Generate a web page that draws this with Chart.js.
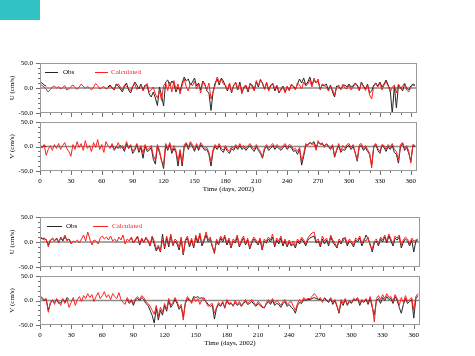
<!DOCTYPE html>
<html><head><meta charset="utf-8">
<script src="https://cdn.jsdelivr.net/npm/chart.js@4/dist/chart.umd.min.js"></script>
<style>
html,body{margin:0;padding:0;background:#fff;}
#wrap{position:relative;width:475px;height:356px;overflow:hidden;background:#fff;}
#teal{position:absolute;left:0;top:0;width:40px;height:20px;background:#31c3c3;}
canvas{position:absolute;left:0;top:0;}
</style></head><body>
<div id="wrap"><div id="teal"></div>
<canvas id="c1" width="475" height="356"></canvas>
<canvas id="c2" width="475" height="356"></canvas>
<canvas id="c3" width="475" height="356"></canvas>
<canvas id="c4" width="475" height="356"></canvas>
</div>
<script>
const _ = null;
const days = Array.from({length:183}, (_v,i) => i*2);
const xTickLabels = [0,30,60,90,120,150,180,210,240,270,300,330,360];
const yTickLabels = [-50,0,50];

// Group 1, U component
const u1Calc = [
 8,5,2,-2,-8,-3,2,4,0,3,
 -2,1,5,-4,-2,3,6,1,-3,2,
 8,4,-1,3,0,-4,2,9,5,-2,
 1,3,-2,0,4,1,-3,5,8,2,
 -4,6,3,-1,-5,4,8,-3,2,6,
 -6,3,9,-8,-4,2,-12,-20,-6,-25,
 5,10,-5,12,-8,15,-3,8,-12,5,
 18,2,-6,10,4,14,-2,8,-10,12,
 6,-4,10,-22,-8,5,22,12,18,8,
 6,-4,10,-8,4,12,-2,8,-12,3,
 6,-5,10,2,-6,15,4,18,8,-3,
 12,-6,4,10,-2,6,-8,-4,2,-10,
 4,-6,8,2,-4,10,6,-2,12,4,
 8,16,2,20,10,18,-4,8,6,2,
 -6,4,-3,-14,2,6,-4,8,0,-2,
 6,-4,2,8,4,-6,10,2,-5,6,
 -14,-22,4,8,2,10,-4,6,12,4,
 -8,2,6,-10,8,-2,4,10,-4,-8,
 2,6,4];
const u1Obs = [
 12,10,6,4,_,_,_,_,_,_,
 _,_,_,_,_,_,_,_,_,_,
 _,_,_,_,_,_,_,_,_,_,
 _,_,_,2,6,0,-4,8,4,-2,
 -8,4,10,-4,-10,2,12,6,-2,8,
 -4,6,4,-12,-18,-8,-20,-35,2,-15,
 -36,12,16,4,14,8,-8,2,-6,10,
 22,14,18,6,12,20,4,10,-4,14,
 8,-6,-10,-45,-8,10,18,6,20,14,
 4,-6,8,-10,6,10,-4,12,-8,0,
 4,-8,8,6,-4,12,2,16,10,-2,
 10,-4,6,8,-6,4,-10,-2,4,-8,
 2,-4,6,4,-2,8,18,10,20,6,
 12,22,6,16,10,14,-2,6,4,8,
 -4,6,-8,-18,4,2,-2,4,6,2,
 8,2,4,10,6,-4,12,4,-2,8,
 -10,-6,6,10,4,12,2,8,16,6,
 -4,-52,4,-40,6,2,-6,8,0,-4,
 4,8,6];

// Group 1, V component
const v1Calc = [
 2,-2,4,-18,-6,2,-8,4,-4,6,
 -6,2,8,-4,-10,-20,4,-6,10,-2,
 6,-8,12,-4,2,-10,8,-2,14,-6,
 4,-12,10,2,-4,6,-8,-2,8,-4,
 2,-6,10,-2,4,-10,-4,6,-8,2,
 -14,4,-6,-4,2,-18,-28,4,-8,-30,
 -36,6,-4,8,-10,2,-8,-30,-6,-34,
 4,8,-2,10,4,-6,6,-4,8,2,
 -4,-2,-12,-32,-6,4,-2,6,-4,-8,
 2,-6,-10,0,-4,4,-2,6,-2,2,
 -4,2,6,-2,-6,4,-4,-10,-22,-2,
 4,-4,2,6,-2,4,0,-4,2,6,
 -2,4,2,-6,-4,-10,-2,-30,-14,6,
 2,8,4,6,-8,12,4,8,-2,6,
 2,-4,4,-20,-6,6,-10,2,-4,4,
 6,-2,4,-14,-28,4,6,-4,2,-6,
 -14,-44,2,6,-4,-10,4,2,-6,4,
 -2,6,-6,-10,-28,4,8,-4,2,-10,
 -34,4,2];
const v1Obs = [
 0,-2,2,0,_,_,_,_,_,_,
 _,_,_,_,_,_,_,_,_,_,
 _,_,_,_,_,_,_,_,_,_,
 _,_,_,_,-2,2,-6,0,-4,2,
 -2,-10,6,-4,2,-14,-8,4,-12,-2,
 -24,0,-10,-8,-2,-26,-36,0,-12,-28,
 -45,2,-8,4,-14,-4,-12,-40,-10,-40,
 -2,6,-6,6,0,-10,2,-8,4,-2,
 -8,-6,-16,-40,-10,0,-6,2,-8,-12,
 -2,-10,-14,-4,-8,0,-6,2,-6,-2,
 -8,-2,2,-6,-10,0,-8,-14,-24,-6,
 0,-8,-4,2,-6,0,-4,-8,-2,2,
 -6,0,-2,-10,-8,-16,-6,-38,-20,2,
 4,8,6,10,-2,8,6,4,2,4,
 0,-6,2,-22,-8,2,-12,-6,-8,0,
 2,-6,0,-12,-30,0,2,-8,-2,-10,
 -16,-38,-2,4,-8,-14,2,-2,-10,0,
 -6,2,-12,-16,-34,0,6,-8,-2,-14,
 -30,2,0];

// Group 2, U component
const u2Calc = [
 12,8,4,6,-10,2,8,4,6,-2,
 10,4,14,2,6,-4,2,0,4,-2,
 6,14,2,20,6,-6,4,2,-4,8,
 12,6,10,4,12,2,6,0,10,4,
 14,-4,6,2,10,-2,6,12,-4,8,
 -2,10,4,-6,12,2,-14,-6,-18,4,
 -10,12,-4,16,-8,6,2,-12,10,-24,
 4,12,-6,8,-10,14,2,18,-4,6,
 20,4,10,-8,-24,6,-2,12,4,14,
 -2,8,-10,6,2,14,-8,4,12,-4,
 8,-12,2,10,4,-2,8,-14,6,2,
 10,4,16,-6,8,2,12,-4,6,-8,
 4,-6,2,-8,6,0,10,4,-4,8,
 14,18,20,2,6,-6,12,2,8,-4,
 14,4,-2,-10,6,0,2,10,-4,6,
 2,-6,8,4,12,-4,6,2,10,-8,
 -14,2,6,-4,10,4,14,2,16,6,
 -4,12,8,14,-6,4,10,6,-4,8,
 2,4,6];
const u2Obs = [
 10,6,8,4,-6,4,6,2,8,0,
 8,2,10,4,6,-2,_,_,_,_,
 _,_,_,_,_,_,_,_,_,_,
 _,_,_,_,_,_,_,_,_,_,
 _,_,_,4,8,-2,4,10,-6,6,
 0,8,2,-8,10,-4,-18,-10,-20,16,
 -14,8,-10,12,-6,2,-4,-16,6,-26,
 2,8,-10,4,-12,10,-2,14,-8,2,
 14,0,6,-10,-20,2,-6,8,0,10,
 -6,4,-12,2,-2,10,-10,0,8,-6,
 4,-14,-2,6,0,-6,4,-16,2,-2,
 6,0,10,-10,4,-4,8,-8,2,-10,
 0,-8,-4,-12,2,-4,6,0,-8,4,
 8,10,12,-2,2,-10,6,-4,4,-8,
 10,0,-6,-12,2,-4,8,6,-8,2,
 -2,-10,4,0,8,-8,2,14,6,-4,
 -20,-2,2,-8,6,0,10,-2,12,2,
 -8,8,4,10,-12,0,6,2,-8,4,
 -20,2,4];

// Group 2, V component
const v2Calc = [
 10,6,2,4,-24,-4,2,-8,4,-2,
 -10,4,-6,2,-14,-4,6,-10,2,8,
 -2,10,4,14,6,12,-2,8,16,4,
 10,18,6,12,2,14,8,4,16,2,
 -4,-8,6,-2,2,-6,4,8,2,10,
 6,-2,-6,-12,-20,-28,-10,-32,-14,-24,
 -6,-18,4,-10,-4,6,-2,-14,-8,-40,
 -4,8,2,-6,6,-2,4,-8,2,6,
 -4,-12,-8,-6,-26,-14,-4,-10,-2,-16,
 2,-6,-4,-12,0,-8,-2,-10,-4,2,
 -6,-2,2,-4,-10,-2,-6,-12,-16,-4,
 2,-4,4,-6,0,-4,-10,-2,2,-8,
 -4,-2,-12,-20,-6,2,-4,6,2,4,
 4,8,14,10,2,6,-4,6,2,-2,
 6,-4,2,-10,-24,2,-6,4,-8,0,
 -4,4,2,6,-6,2,-2,4,-4,8,
 -10,-44,4,10,2,12,4,14,6,8,
 -2,12,4,-10,6,-4,10,-2,2,6,
 -20,8,14];
const v2Obs = [
 8,4,0,2,-20,-6,0,-4,2,-6,
 -4,2,-4,6,2,_,_,_,_,_,
 _,_,_,_,_,_,_,_,_,_,
 _,_,_,_,_,_,_,_,_,_,
 _,_,2,-6,0,-10,2,4,0,6,
 2,-6,-10,-20,-30,-46,-16,-40,-20,-30,
 -10,-22,0,-14,-8,2,-6,-18,-12,-34,
 -6,4,0,-4,8,6,8,4,6,2,
 -2,-8,-12,-10,-38,-16,-8,-12,-4,-14,
 0,-8,-6,-10,-4,-10,-6,-12,-6,-2,
 -8,-6,-2,-8,-12,-6,-10,-14,-14,-8,
 -2,-8,0,-10,-6,-8,-14,-6,-2,-12,
 -8,-14,-18,-26,-10,-4,-6,2,0,2,
 2,4,6,4,2,2,0,4,0,-4,
 4,-8,0,-12,-26,-2,-10,2,-10,-2,
 -6,2,0,4,-10,0,-4,2,-8,4,
 -14,-30,0,4,-6,6,0,8,2,4,
 -6,8,0,-14,-26,-8,4,-6,-2,2,
 -36,4,10];

const FONT = '"Liberation Serif", "Times New Roman", serif';
const OBS_COLOR = '#262626';
const CALC_COLOR = '#ff1f1f';

const framePlugin = {
  id: 'frame',
  beforeDatasetsDraw(chart) {
    const {ctx, chartArea: a, scales: {y}} = chart;
    const y0 = y.getPixelForValue(0);
    ctx.save();
    ctx.strokeStyle = '#8a8a8a'; ctx.lineWidth = 1.3;
    ctx.beginPath(); ctx.moveTo(a.left, y0); ctx.lineTo(a.right, y0); ctx.stroke();
    ctx.restore();
  },
  afterDatasetsDraw(chart, args, opts) {
    const {ctx, chartArea: a, scales: {x, y}} = chart;
    ctx.save();
    ctx.strokeStyle = '#9a9a9a'; ctx.lineWidth = 1;
    ctx.strokeRect(a.left + 0.5, a.top + 0.5, a.width - 1, a.height - 1);
    ctx.strokeStyle = '#707070';
    ctx.beginPath();
    for (let d = 0; d <= 360; d += 10) {
      const px = Math.round(x.getPixelForValue(d)) + 0.5;
      const len = d % 30 === 0 ? 4 : 2;
      ctx.moveTo(px, a.bottom); ctx.lineTo(px, a.bottom + len);
    }
    for (let v = -50; v <= 50; v += 10) {
      const py = Math.round(y.getPixelForValue(v)) + 0.5;
      const len = v % 50 === 0 ? 4 : 2;
      ctx.moveTo(a.left, py); ctx.lineTo(a.left - len, py);
    }
    ctx.stroke();
    if (opts && opts.legend) {
      const L = opts.legend;
      const yy = a.top + 9.5;
      ctx.lineWidth = 1;
      ctx.strokeStyle = OBS_COLOR;
      ctx.beginPath(); ctx.moveTo(L.l1[0], yy); ctx.lineTo(L.l1[1], yy); ctx.stroke();
      ctx.strokeStyle = CALC_COLOR;
      ctx.beginPath(); ctx.moveTo(L.l2[0], yy); ctx.lineTo(L.l2[1], yy); ctx.stroke();
      ctx.font = '7px ' + FONT;
      ctx.textBaseline = 'middle';
      ctx.fillStyle = '#000'; ctx.fillText('Obs', L.t1, yy);
      ctx.fillStyle = CALC_COLOR; ctx.fillText('Calculated', L.t2, yy);
    }
    ctx.restore();
  }
};

function makePanel(id, obs, calc, g) {
  return new Chart(document.getElementById(id), {
    type: 'line',
    data: {
      datasets: [
        {label: 'Calculated', data: days.map((d, i) => ({x: d, y: calc[i]})),
         borderColor: CALC_COLOR, borderWidth: 1, pointRadius: 0, tension: 0, spanGaps: false},
        {label: 'Obs', data: days.map((d, i) => ({x: d, y: obs[i]})),
         borderColor: OBS_COLOR, borderWidth: 1, pointRadius: 0, tension: 0, spanGaps: false}
      ]
    },
    options: {
      responsive: false, animation: false, events: [],
      layout: {padding: {left: 0, top: g.T, right: 475 - g.R, bottom: 356 - g.B - g.H}},
      plugins: {legend: {display: false}, tooltip: {enabled: false}, frame: {legend: g.legend}},
      scales: {
        x: {
          type: 'linear', min: 0, max: 366,
          afterBuildTicks: s => { s.ticks = xTickLabels.map(v => ({value: v})); },
          afterFit: s => { s.height = g.H; },
          grid: {display: false, drawTicks: false}, border: {display: false},
          ticks: {display: g.labels, font: {family: FONT, size: 7}, color: '#000', padding: 6, maxRotation: 0, autoSkip: false},
          title: {display: g.labels, text: 'Time (days, 2002)', font: {family: FONT, size: 7}, color: '#000', padding: {top: 0, bottom: 3}}
        },
        y: {
          min: -50, max: 50,
          afterBuildTicks: s => { s.ticks = yTickLabels.map(v => ({value: v})); },
          afterFit: s => { s.width = 40; },
          grid: {display: false, drawTicks: false}, border: {display: false},
          ticks: {font: {family: FONT, size: 7}, color: '#000', padding: 7, callback: v => Number(v).toFixed(1)},
          title: {display: true, text: g.ytitle, font: {family: FONT, size: 7}, color: '#000', padding: {top: 8, bottom: 0}}
        }
      }
    },
    plugins: [framePlugin]
  });
}

makePanel('c1', u1Obs, u1Calc, {T: 63, B: 113, R: 417, H: 2, labels: false, ytitle: 'U (cm/s)',
  legend: {l1: [45, 58], t1: 63, l2: [95, 108], t2: 111}});
makePanel('c2', v1Obs, v1Calc, {T: 122, B: 171, R: 417, H: 25, labels: true, ytitle: 'V (cm/s)'});
makePanel('c3', u2Obs, u2Calc, {T: 217, B: 267, R: 420, H: 2, labels: false, ytitle: 'U (cm/s)',
  legend: {l1: [47, 62], t1: 66, l2: [93, 108], t2: 112}});
makePanel('c4', v2Obs, v2Calc, {T: 276, B: 325, R: 420, H: 25, labels: true, ytitle: 'V (cm/s)'});
</script>
</body></html>
